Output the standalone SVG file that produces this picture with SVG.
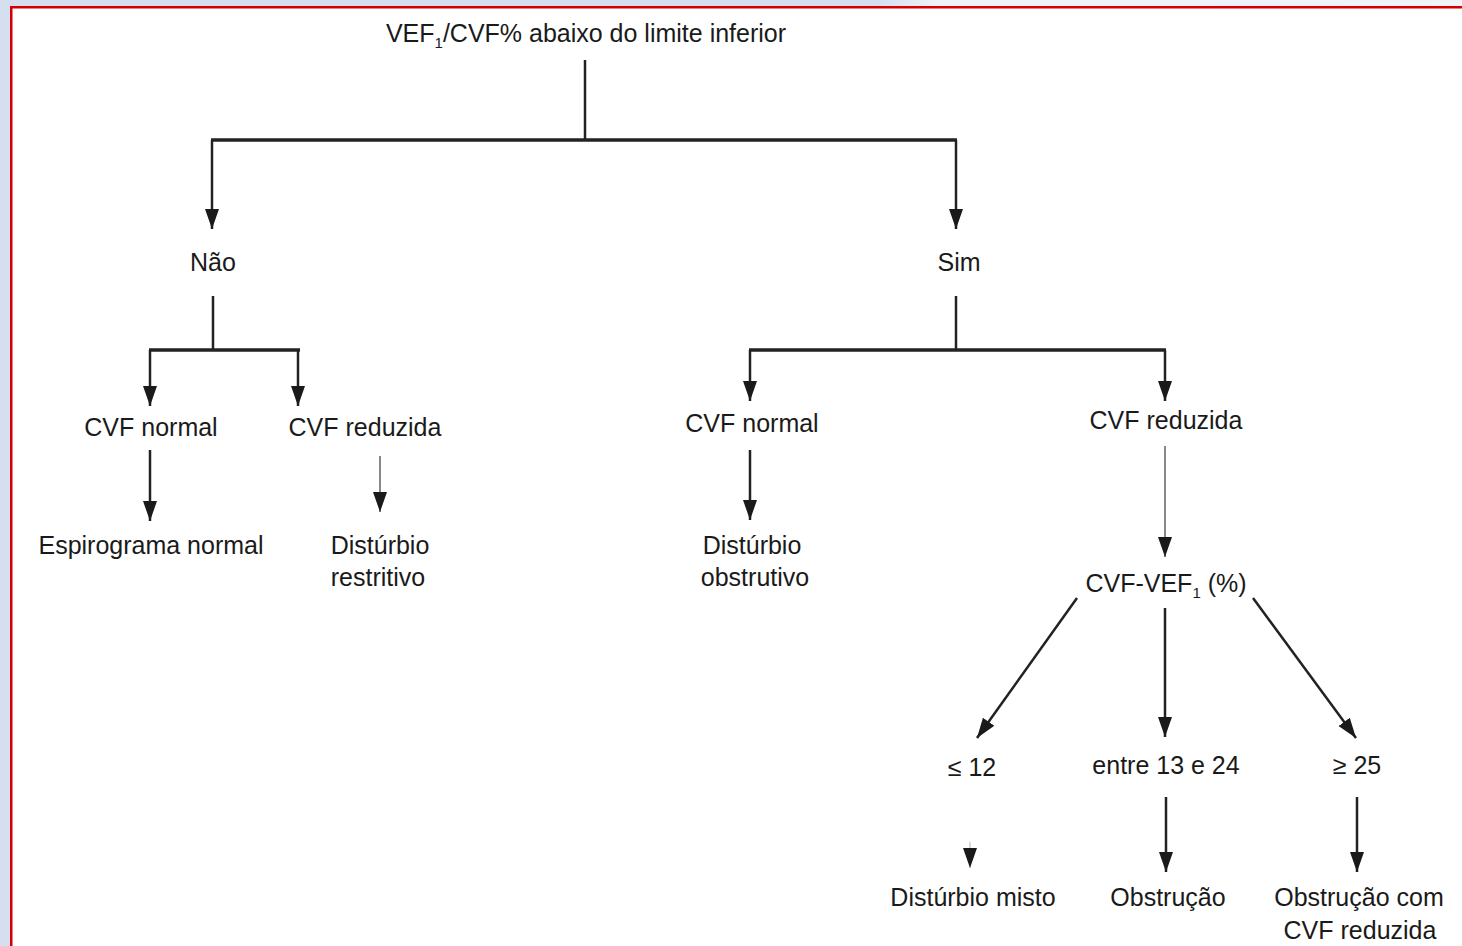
<svg xmlns="http://www.w3.org/2000/svg" width="1462" height="946" viewBox="0 0 1462 946">
<defs>
<linearGradient id="topg" x1="0" y1="0" x2="1462" y2="0" gradientUnits="userSpaceOnUse">
<stop offset="0" stop-color="#d5dff0"/>
<stop offset="0.6" stop-color="#d5dff0"/>
<stop offset="0.64" stop-color="#eef1f8"/>
<stop offset="1" stop-color="#f3f3fa"/>
</linearGradient>
<marker id="ah" viewBox="0 -8 20 16" markerWidth="20" markerHeight="16" refX="20" refY="0" orient="auto" markerUnits="userSpaceOnUse">
<path d="M0,-7 L20,0 L0,7 z" fill="#1a1a1a"/>
</marker>
<style>
text{font-family:"Liberation Sans",Arial,sans-serif;font-size:25px;fill:#1a1a1a;text-anchor:middle}
.c{fill:none;stroke:#222;stroke-width:2.5}
.bar{fill:none;stroke:#222;stroke-width:3.5}
.faint{fill:none;stroke:#888;stroke-width:2}
</style>
</defs>
<rect x="0" y="0" width="1462" height="946" fill="#ffffff"/>
<rect x="0" y="0" width="1462" height="7" fill="url(#topg)"/>
<rect x="0" y="0" width="10" height="946" fill="#d5dff0"/>
<rect x="10" y="6" width="1452" height="2.5" fill="#d40000"/>
<rect x="10" y="6" width="2.5" height="940" fill="#d40000"/>

<g id="connectors">
<path class="c" d="M585,60 V140"/>
<path class="bar" d="M211,140 H957"/>
<path class="c" d="M212,140 V229" marker-end="url(#ah)"/>
<path class="c" d="M956,140 V229" marker-end="url(#ah)"/>
<path class="c" d="M213,296 V350"/>
<path class="bar" d="M149,350 H300"/>
<path class="c" d="M150,350 V406" marker-end="url(#ah)"/>
<path class="c" d="M298,350 V406" marker-end="url(#ah)"/>
<path class="c" d="M956,296 V350"/>
<path class="bar" d="M749,350 H1166"/>
<path class="c" d="M750,350 V401" marker-end="url(#ah)"/>
<path class="c" d="M1165,350 V401" marker-end="url(#ah)"/>
<path class="c" d="M150,450 V521" marker-end="url(#ah)"/>
<path class="faint" d="M380,456 V512" marker-end="url(#ah)"/>
<path class="c" d="M750,450 V520" marker-end="url(#ah)"/>
<path class="faint" d="M1165,446 V557" marker-end="url(#ah)"/>
<path class="c" d="M1077,598 L977,738" marker-end="url(#ah)"/>
<path class="c" d="M1165,608 V737" marker-end="url(#ah)"/>
<path class="c" d="M1253,598 L1356,738" marker-end="url(#ah)"/>
<path class="faint" d="M970,842 V868" stroke-opacity="0.3" marker-end="url(#ah)"/>
<path class="c" d="M1166,797 V872" marker-end="url(#ah)"/>
<path class="c" d="M1357,797 V872" marker-end="url(#ah)"/>
</g>

<g id="n-root"><text x="586" y="42">VEF<tspan font-size="15" dy="6">1</tspan><tspan dy="-6">/CVF% abaixo do limite inferior</tspan></text></g>
<g id="n-nao"><text x="213" y="271">Não</text></g>
<g id="n-sim"><text x="959" y="271">Sim</text></g>
<g id="n-cvfnormal1"><text x="151" y="436">CVF normal</text></g>
<g id="n-cvfreduzida1"><text x="365" y="436">CVF reduzida</text></g>
<g id="n-cvfnormal2"><text x="752" y="432">CVF normal</text></g>
<g id="n-cvfreduzida2"><text x="1166" y="429">CVF reduzida</text></g>
<g id="n-espirograma"><text x="151" y="554">Espirograma normal</text></g>
<g id="n-restritivo"><text x="380" y="554">Distúrbio</text><text x="378" y="586">restritivo</text></g>
<g id="n-obstrutivo"><text x="752" y="554">Distúrbio</text><text x="755" y="586">obstrutivo</text></g>
<g id="n-cvfvef"><text x="1166" y="592">CVF-VEF<tspan font-size="15" dy="6">1</tspan><tspan dy="-6"> (%)</tspan></text></g>
<g id="n-le12"><text x="972" y="776">≤ 12</text></g>
<g id="n-entre"><text x="1166" y="774">entre 13 e 24</text></g>
<g id="n-ge25"><text x="1357" y="774">≥ 25</text></g>
<g id="n-misto"><text x="973" y="906">Distúrbio misto</text></g>
<g id="n-obstrucao"><text x="1168" y="906">Obstrução</text></g>
<g id="n-obstrucaocvf"><text x="1359" y="906">Obstrução com</text><text x="1360" y="939">CVF reduzida</text></g>
</svg>
